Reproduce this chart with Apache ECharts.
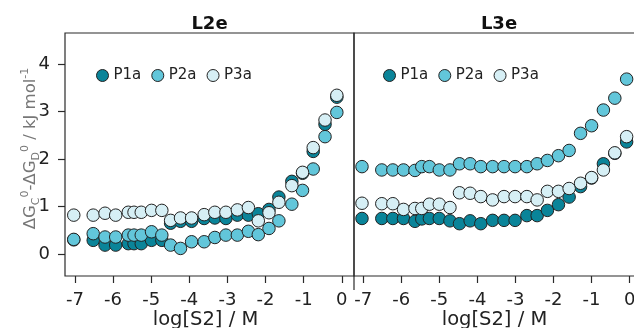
<!DOCTYPE html>
<html><head><meta charset="utf-8">
<script src="https://cdn.jsdelivr.net/npm/echarts@6/dist/echarts.min.js"></script>
<style>html,body{margin:0;padding:0;background:#fff}#c{width:634px;height:328px}</style>
</head><body><div id="c"></div>
<script>
const panelTitles = ['L2e', 'L3e'];
const seriesNames = ['P1a', 'P2a', 'P3a'];
const xTicks = [-7, -6, -5, -4, -3, -2, -1, 0];
const yTicks = [0, 1, 2, 3, 4];
const xAxisTitle = 'log[S2] / M';

const xL2e = [-7.03, -6.52, -6.21, -5.93, -5.60, -5.45, -5.26, -4.99, -4.72, -4.49, -4.23, -3.94, -3.61, -3.33, -3.04, -2.74, -2.45, -2.19, -1.91, -1.65, -1.31, -1.03, -0.75, -0.44, -0.13];
const L2e_P1a = [0.30, 0.29, 0.19, 0.19, 0.22, 0.22, 0.22, 0.29, 0.29, 0.65, 0.69, 0.69, 0.75, 0.76, 0.75, 0.82, 0.82, 0.85, 0.94, 1.20, 1.53, 1.70, 2.16, 2.73, 3.30];
const L2e_P2a = [0.31, 0.43, 0.36, 0.36, 0.40, 0.40, 0.40, 0.47, 0.40, 0.19, 0.12, 0.26, 0.26, 0.35, 0.40, 0.40, 0.48, 0.41, 0.54, 0.70, 1.05, 1.34, 1.79, 2.47, 2.98];
const L2e_P3a = [0.82, 0.82, 0.86, 0.82, 0.88, 0.88, 0.88, 0.92, 0.92, 0.71, 0.76, 0.76, 0.83, 0.88, 0.88, 0.93, 0.98, 0.70, 0.87, 1.09, 1.44, 1.72, 2.24, 2.82, 3.34];

const xL3e = [-7.03, -6.51, -6.22, -5.94, -5.64, -5.46, -5.26, -5.00, -4.72, -4.47, -4.19, -3.91, -3.60, -3.30, -3.01, -2.70, -2.43, -2.16, -1.87, -1.59, -1.29, -1.00, -0.69, -0.39, -0.08];
const L3e_P1a = [0.75, 0.75, 0.75, 0.75, 0.69, 0.74, 0.75, 0.75, 0.70, 0.64, 0.70, 0.64, 0.71, 0.71, 0.71, 0.81, 0.81, 0.92, 1.04, 1.20, 1.42, 1.60, 1.90, 2.12, 2.36];
const L3e_P2a = [1.84, 1.77, 1.77, 1.77, 1.76, 1.84, 1.84, 1.77, 1.77, 1.90, 1.90, 1.84, 1.84, 1.84, 1.84, 1.84, 1.90, 1.97, 2.07, 2.18, 2.54, 2.70, 3.03, 3.28, 3.68];
const L3e_P3a = [1.07, 1.06, 1.06, 0.94, 0.96, 0.96, 1.05, 1.05, 0.98, 1.29, 1.28, 1.21, 1.14, 1.21, 1.21, 1.21, 1.14, 1.32, 1.32, 1.38, 1.49, 1.61, 1.77, 2.13, 2.47];

const panelX = [xL2e, xL3e];
const panelY = [[L2e_P1a, L2e_P2a, L2e_P3a], [L3e_P1a, L3e_P2a, L3e_P3a]];

const colors = ['#0a8499', '#62c6da', '#d6eff5'];
const FONT = 'DejaVu Sans';
const AX = '#2a2a2a';
const xRanges = [[-7.26, 0.32], [-7.24, 0.35]];
const yRange = [-0.46, 4.65];

const chart = echarts.init(document.getElementById('c'), null, {renderer: 'canvas'});

const grids = [
  {left: 65, top: 33, width: 289, height: 243, show: true, borderColor: AX, borderWidth: 1.2, outerBoundsMode: 'none'},
  {left: 354, top: 33, width: 289, height: 243, show: true, borderColor: AX, borderWidth: 1.2, outerBoundsMode: 'none'}
];

const xAxes = [0, 1].map(i => ({
  type: 'value', gridIndex: i, min: xRanges[i][0], max: xRanges[i][1], position: 'bottom',
  axisLine: {show: false, onZero: false},
  splitLine: {show: false},
  axisTick: {show: true, customValues: xTicks, inside: false, length: 7, lineStyle: {color: AX, width: 1.2}},
  axisLabel: {customValues: xTicks, fontSize: 18, color: '#222', fontFamily: FONT, margin: 15},
  name: xAxisTitle, nameLocation: 'middle', nameGap: 34, nameMoveOverlap: false,
  nameTextStyle: {fontSize: 19.5, color: '#222', fontFamily: FONT, padding: [0, 8, 0, 0]}
}));

const yAxes = [0, 1].map(i => ({
  type: 'value', gridIndex: i, min: yRange[0], max: yRange[1], position: 'left',
  axisLine: {show: false, onZero: false},
  splitLine: {show: false},
  axisTick: {show: i === 0, customValues: yTicks, inside: false, length: 7, lineStyle: {color: AX, width: 1.2}},
  axisLabel: {show: i === 0, customValues: yTicks, fontSize: 18, color: '#222', fontFamily: FONT, margin: 15},
  name: i === 0 ? '{n|ΔG}{s|C}{p|0}{n|-ΔG}{s|D}{p|0}{n| / kJ mol}{p|-1}' : '',
  nameLocation: 'middle', nameGap: 23, nameRotate: 90, nameMoveOverlap: false,
  nameTextStyle: {
    color: '#777', fontFamily: FONT, fontSize: 16.5, padding: [0, 0, 0, 12],
    rich: {
      n: {fontSize: 16.5, color: '#777', fontFamily: FONT, lineHeight: 22, verticalAlign: 'middle'},
      s: {fontSize: 11, color: '#777', fontFamily: FONT, lineHeight: 22, verticalAlign: 'bottom'},
      p: {fontSize: 11, color: '#777', fontFamily: FONT, lineHeight: 22, verticalAlign: 'top'}
    }
  }
}));

const series = [];
for (let p = 0; p < 2; p++) {
  for (let s = 0; s < 3; s++) {
    series.push({
      name: seriesNames[s], type: 'scatter', xAxisIndex: p, yAxisIndex: p,
      data: panelX[p].map((x, k) => [x, panelY[p][s][k]]),
      symbol: 'circle', symbolSize: 12.5,
      itemStyle: {color: colors[s], borderColor: '#222', borderWidth: 1, opacity: 1},
      emphasis: {disabled: true},
      z: 2 + s
    });
  }
}

const legendBase = {
  data: seriesNames, top: 63, icon: 'circle', itemWidth: 12, itemHeight: 12, itemGap: 10,
  selectedMode: false,
  textStyle: {fontSize: 15, color: '#222', fontFamily: FONT, padding: [0, 0, 0, 0]},
  itemStyle: {borderColor: '#222', borderWidth: 1}
};

chart.setOption({
  animation: false,
  backgroundColor: '#fff',
  textStyle: {fontFamily: FONT},
  title: [
    {text: panelTitles[0], left: 204.5, top: 10, textAlign: 'center', textStyle: {fontSize: 18, fontWeight: 'bold', color: '#111', fontFamily: FONT}},
    {text: panelTitles[1], left: 494, top: 10, textAlign: 'center', textStyle: {fontSize: 18, fontWeight: 'bold', color: '#111', fontFamily: FONT}}
  ],
  legend: [Object.assign({left: 91}, legendBase), Object.assign({left: 378}, legendBase)],
  grid: grids, xAxis: xAxes, yAxis: yAxes, series: series
});

const pt = chart.convertToPixel({gridIndex: 1}, [xRanges[1][0], yRange[0]]);
chart.setOption({
  graphic: [{type: 'line', shape: {x1: pt[0], y1: pt[1], x2: pt[0], y2: pt[1] + 14}, style: {stroke: AX, lineWidth: 1.2}, z: 10}]
});
</script></body></html>
